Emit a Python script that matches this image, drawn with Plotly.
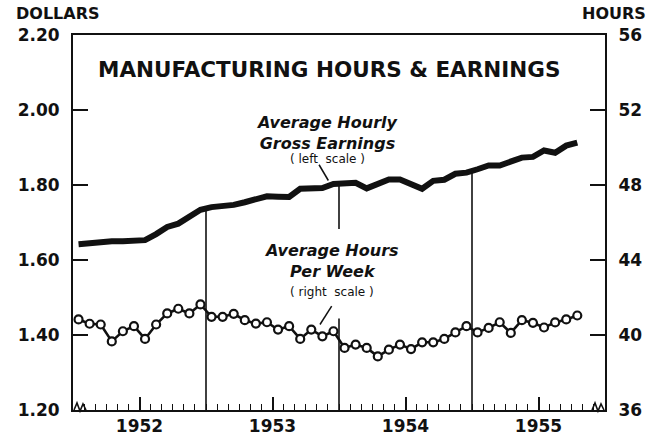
import plotly.graph_objects as go

# ---- data ----
years = [1952, 1953, 1954, 1955]

earn_1952 = [1.642, 1.646, 1.650, 1.650, 1.650, 1.650, 1.653, 1.669, 1.688, 1.697, 1.717, 1.734]
earn_1953 = [1.741, 1.742, 1.747, 1.754, 1.763, 1.770, 1.769, 1.768, 1.790, 1.791, 1.792, 1.803]
earn_1954 = [1.806, 1.806, 1.791, 1.803, 1.815, 1.815, 1.803, 1.790, 1.811, 1.814, 1.830, 1.833]
earn_1955 = [1.842, 1.852, 1.852, 1.862, 1.873, 1.875, 1.892, 1.886, 1.905, 1.913]

hours_1952 = [40.83, 40.60, 40.56, 39.66, 40.20, 40.47, 39.79, 40.56, 41.15, 41.40, 41.15, 41.63]
hours_1953 = [40.97, 40.97, 41.13, 40.79, 40.61, 40.68, 40.29, 40.47, 39.79, 40.29, 39.93, 40.20]
hours_1954 = [39.31, 39.49, 39.31, 38.86, 39.22, 39.49, 39.25, 39.61, 39.61, 39.79, 40.14, 40.47]
hours_1955 = [40.14, 40.38, 40.68, 40.11, 40.79, 40.65, 40.40, 40.67, 40.83, 41.04]

dollar_ticks = [1.20, 1.40, 1.60, 1.80, 2.00, 2.20]
hour_ticks = [36, 40, 44, 48, 52, 56]
year_labels = ["1952", "1953", "1954", "1955"]

# ---- build monthly x positions ----
earn_by_year = [earn_1952, earn_1953, earn_1954, earn_1955]
hours_by_year = [hours_1952, hours_1953, hours_1954, hours_1955]

x_e, y_e, x_h, y_h = [], [], [], []
for yr, ev, hv in zip(years, earn_by_year, hours_by_year):
    for m, v in enumerate(ev):
        x_e.append(yr + (m + 0.5) / 12)
        y_e.append(v)
    for m, v in enumerate(hv):
        x_h.append(yr + (m + 0.5) / 12)
        y_h.append(v)

FONT = "DejaVu Sans"
BLACK = "#111111"

fig = go.Figure()
fig.add_trace(go.Scatter(
    x=x_e, y=y_e, mode="lines", yaxis="y",
    line=dict(color=BLACK, width=6, shape="linear"),
    hoverinfo="skip", showlegend=False))
fig.add_trace(go.Scatter(
    x=x_h, y=y_h, mode="lines+markers", yaxis="y2",
    line=dict(color=BLACK, width=2.6),
    marker=dict(symbol="circle", size=8, color="white", line=dict(color=BLACK, width=2.2)),
    hoverinfo="skip", showlegend=False))

# year-boundary vertical lines, up to the earnings line
def earn_at(x):
    for i in range(len(x_e) - 1):
        if x_e[i] <= x <= x_e[i + 1]:
            t = (x - x_e[i]) / (x_e[i + 1] - x_e[i])
            return y_e[i] + t * (y_e[i + 1] - y_e[i])
    return y_e[-1]

shapes = []
for yr in years[1:]:
    top = earn_at(yr)
    if yr == 1954:
        shapes.append(dict(type="line", x0=yr, x1=yr, y0=1.683, y1=top, xref="x", yref="y",
                           line=dict(color=BLACK, width=1.6), layer="below"))
        shapes.append(dict(type="line", x0=yr, x1=yr, y0=1.20, y1=1.444, xref="x", yref="y",
                           line=dict(color=BLACK, width=1.6), layer="below"))
    else:
        shapes.append(dict(type="line", x0=yr, x1=yr, y0=1.20, y1=top, xref="x", yref="y",
                           line=dict(color=BLACK, width=1.6), layer="below"))

# pointer lines for the annotations
shapes.append(dict(type="line", x0=1953.85, y0=1.854, x1=1953.92, y1=1.812, xref="x", yref="y",
                   line=dict(color=BLACK, width=1.5)))
shapes.append(dict(type="line", x0=1953.945, y0=1.477, x1=1953.857, y1=1.428, xref="x", yref="y",
                   line=dict(color=BLACK, width=1.5)))

# axis break squiggles at the bottom corners
def px2paper(px, py):
    return (px - 73) / 532, (410 - py) / 375

def squiggle(pts):
    s = ""
    for i, (a, b) in enumerate(pts):
        xp, yp = px2paper(a, b)
        s += ("M" if i == 0 else "L") + f"{xp:.4f},{yp:.4f} "
    return s

shapes.append(dict(type="path", xref="paper", yref="paper",
                   path=squiggle([(74, 410), (77, 403), (80, 411), (83, 404), (86, 410)]),
                   line=dict(color=BLACK, width=1.6)))
shapes.append(dict(type="path", xref="paper", yref="paper",
                   path=squiggle([(592, 410), (595, 403), (598, 411), (601, 404), (604, 410)]),
                   line=dict(color=BLACK, width=1.6)))

annotations = [
    dict(text="<b>MANUFACTURING HOURS & EARNINGS</b>", x=1953.925, y=2.108, xref="x", yref="y",
         showarrow=False, font=dict(family=FONT, size=21.5, color=BLACK)),
    dict(text="<b><i>Average Hourly</i></b><br><b><i>Gross Earnings</i></b>",
         x=1953.91, y=1.940, xref="x", yref="y",
         showarrow=False, font=dict(family=FONT, size=16, color=BLACK)),
    dict(text="( left  scale )", x=1953.91, y=1.870, xref="x", yref="y",
         showarrow=False, font=dict(family=FONT, size=12, color=BLACK)),
    dict(text="<b><i>Average Hours</i></b><br><b><i>Per Week</i></b>",
         x=1953.94, y=1.598, xref="x", yref="y",
         showarrow=False, font=dict(family=FONT, size=16, color=BLACK)),
    dict(text="( right  scale )", x=1953.95, y=1.514, xref="x", yref="y",
         showarrow=False, font=dict(family=FONT, size=12, color=BLACK)),
    dict(text="<b>DOLLARS</b>", x=-0.111, y=1.056, xref="paper", yref="paper",
         xanchor="left", yanchor="middle", showarrow=False,
         font=dict(family=FONT, size=16, color=BLACK)),
    dict(text="<b>HOURS</b>", x=1.081, y=1.056, xref="paper", yref="paper",
         xanchor="right", yanchor="middle", showarrow=False,
         font=dict(family=FONT, size=16, color=BLACK)),
]

tickfont = dict(family=FONT, size=17, color=BLACK, weight="bold")

fig.update_layout(
    template="none",
    width=659, height=441,
    margin=dict(l=73, r=54, t=35, b=31, autoexpand=False),
    paper_bgcolor="white", plot_bgcolor="white",
    showlegend=False,
    shapes=shapes,
    annotations=annotations,
    xaxis=dict(
        range=[1952, 1956], showgrid=False, zeroline=False, automargin=False,
        tickvals=[y + 0.5 for y in years], ticktext=year_labels,
        ticks="inside", ticklen=13, tickwidth=1.5, tickcolor=BLACK,
        showline=True, linewidth=2, linecolor=BLACK, mirror=True,
        tickfont=tickfont,
        minor=dict(tick0=1952, dtick=1 / 12, ticks="inside", ticklen=6,
                   tickwidth=1.3, tickcolor=BLACK, showgrid=False),
    ),
    yaxis=dict(
        range=[1.20, 2.20], showgrid=False, zeroline=False, automargin=False,
        tickvals=dollar_ticks, ticktext=[f"{v:.2f}" for v in dollar_ticks],
        ticks="inside", ticklen=15, tickwidth=1.5, tickcolor=BLACK,
        showline=True, linewidth=2, linecolor=BLACK,
        tickfont=tickfont, ticklabelstandoff=8,
    ),
    yaxis2=dict(
        range=[36, 56], overlaying="y", side="right", showgrid=False, zeroline=False,
        automargin=False,
        tickvals=hour_ticks, ticktext=[str(v) for v in hour_ticks],
        ticks="inside", ticklen=15, tickwidth=1.5, tickcolor=BLACK,
        showline=True, linewidth=2, linecolor=BLACK,
        tickfont=tickfont, ticklabelstandoff=8,
    ),
)

fig.write_html("out.html", config={"displayModeBar": False},
               post_script="document.body.style.margin='0';document.body.style.padding='0';")
